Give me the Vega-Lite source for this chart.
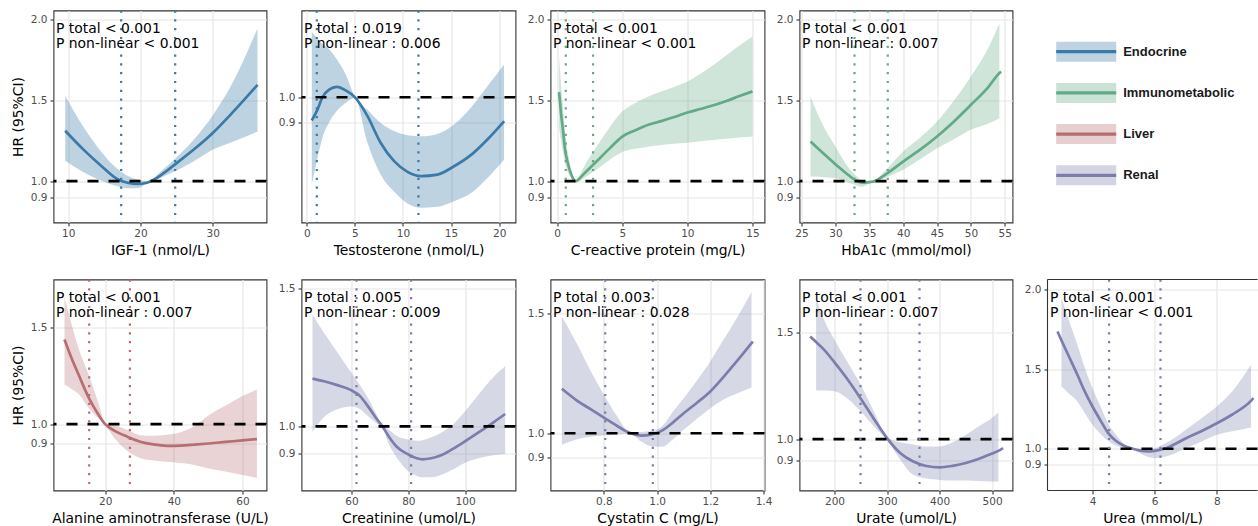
{
"$schema": "https://vega.github.io/schema/vega-lite/v6.json",
"padding": {"left": 10.5, "top": 8.5, "right": 0, "bottom": 0},
"autosize": {"type": "pad"},
"config": {
 "font": "DejaVu Sans",
 "view": {"stroke": "#333333", "strokeWidth": 1.1},
 "axis": {"grid": true, "gridColor": "#e6e6e6", "gridWidth": 1.2, "domain": false, "tickColor": "#333333", "tickSize": 3.5, "tickWidth": 1.1, "labelColor": "#4d4d4d", "labelFont": "DejaVu Sans", "labelFontSize": 10.5, "labelPadding": 2, "labelFlush": false, "labelOverlap": false, "labelBound": false, "titleFont": "DejaVu Sans", "titleFontSize": 13.9, "titleFontWeight": "normal", "titleColor": "#000000", "titlePadding": 5},
 "axisY": {"labelPadding": 3, "titlePadding": 5}
},
"datasets": {
 "p1": [
  {"x":9.59,"hr":1.312,"lo":1.126,"hi":1.529},
  {"x":12.12,"hr":1.195,"lo":1.055,"hi":1.335},
  {"x":14.43,"hr":1.1,"lo":1.005,"hi":1.19},
  {"x":16.96,"hr":1.008,"lo":0.967,"hi":1.07},
  {"x":18.34,"hr":0.988,"lo":0.955,"hi":1.03},
  {"x":19.5,"hr":0.982,"lo":0.955,"hi":1.012},
  {"x":20.9,"hr":0.99,"lo":0.985,"hi":1.0},
  {"x":21.58,"hr":1.002,"lo":0.996,"hi":1.012},
  {"x":23.2,"hr":1.049,"lo":1.028,"hi":1.075},
  {"x":24.7,"hr":1.101,"lo":1.059,"hi":1.135},
  {"x":27.33,"hr":1.194,"lo":1.122,"hi":1.255},
  {"x":29.96,"hr":1.297,"lo":1.194,"hi":1.405},
  {"x":32.87,"hr":1.432,"lo":1.246,"hi":1.62},
  {"x":36.19,"hr":1.597,"lo":1.307,"hi":1.948}
 ],
 "p1c": [{"x":17.33},{"x":24.8}],
 "p2": [
  {"x":0.52,"hr":0.908,"lo":0.655,"hi":1.258},
  {"x":1.11,"hr":0.951,"lo":0.76,"hi":1.232},
  {"x":1.63,"hr":1.0,"lo":0.84,"hi":1.21},
  {"x":2.32,"hr":1.03,"lo":0.9,"hi":1.19},
  {"x":3.12,"hr":1.041,"lo":0.945,"hi":1.15},
  {"x":4.05,"hr":1.027,"lo":0.978,"hi":1.09},
  {"x":4.99,"hr":1.0,"lo":0.998,"hi":1.002},
  {"x":6.31,"hr":0.925,"lo":0.82,"hi":0.95},
  {"x":7.69,"hr":0.819,"lo":0.693,"hi":0.898},
  {"x":9.08,"hr":0.747,"lo":0.627,"hi":0.866},
  {"x":10.47,"hr":0.705,"lo":0.58,"hi":0.85},
  {"x":11.85,"hr":0.688,"lo":0.563,"hi":0.846},
  {"x":13.59,"hr":0.694,"lo":0.567,"hi":0.855},
  {"x":15.31,"hr":0.727,"lo":0.589,"hi":0.892},
  {"x":17.05,"hr":0.771,"lo":0.62,"hi":0.958},
  {"x":18.78,"hr":0.833,"lo":0.681,"hi":1.043},
  {"x":20.51,"hr":0.905,"lo":0.753,"hi":1.129}
 ],
 "p2c": [{"x":1.04},{"x":11.61}],
 "p3": [
  {"x":0.15,"hr":1.551,"lo":1.33,"hi":1.78},
  {"x":0.3,"hr":1.42,"lo":1.25,"hi":1.6},
  {"x":0.46,"hr":1.31,"lo":1.18,"hi":1.45},
  {"x":0.6,"hr":1.2,"lo":1.11,"hi":1.31},
  {"x":0.8,"hr":1.12,"lo":1.06,"hi":1.19},
  {"x":1.0,"hr":1.06,"lo":1.03,"hi":1.1},
  {"x":1.2,"hr":1.02,"lo":1.005,"hi":1.04},
  {"x":1.45,"hr":1.0,"lo":0.997,"hi":1.003},
  {"x":1.7,"hr":1.015,"lo":1.0,"hi":1.03},
  {"x":2.0,"hr":1.04,"lo":1.015,"hi":1.08},
  {"x":3.0,"hr":1.12,"lo":1.07,"hi":1.21},
  {"x":4.0,"hr":1.2,"lo":1.13,"hi":1.33},
  {"x":5.0,"hr":1.276,"lo":1.18,"hi":1.431},
  {"x":6.0,"hr":1.315,"lo":1.2,"hi":1.485},
  {"x":7.0,"hr":1.349,"lo":1.213,"hi":1.525},
  {"x":8.0,"hr":1.372,"lo":1.224,"hi":1.555},
  {"x":9.0,"hr":1.397,"lo":1.232,"hi":1.585},
  {"x":10.0,"hr":1.425,"lo":1.238,"hi":1.617},
  {"x":11.0,"hr":1.447,"lo":1.247,"hi":1.665},
  {"x":12.0,"hr":1.47,"lo":1.255,"hi":1.72},
  {"x":13.0,"hr":1.497,"lo":1.262,"hi":1.78},
  {"x":14.0,"hr":1.527,"lo":1.27,"hi":1.84},
  {"x":15.0,"hr":1.556,"lo":1.276,"hi":1.896}
 ],
 "p3c": [{"x":0.667},{"x":2.76}],
 "p4": [
  {"x":26.33,"hr":1.245,"lo":1.029,"hi":1.524},
  {"x":28,"hr":1.18,"lo":1.025,"hi":1.36},
  {"x":30,"hr":1.105,"lo":1.018,"hi":1.214},
  {"x":32,"hr":1.035,"lo":0.99,"hi":1.08},
  {"x":33,"hr":1.005,"lo":0.975,"hi":1.035},
  {"x":34,"hr":0.99,"lo":0.965,"hi":1.005},
  {"x":35,"hr":0.994,"lo":0.985,"hi":1.0},
  {"x":35.8,"hr":1.0,"lo":0.998,"hi":1.003},
  {"x":37,"hr":1.03,"lo":1.015,"hi":1.05},
  {"x":40,"hr":1.121,"lo":1.07,"hi":1.184},
  {"x":42.5,"hr":1.195,"lo":1.135,"hi":1.27},
  {"x":45,"hr":1.277,"lo":1.204,"hi":1.37},
  {"x":47.5,"hr":1.37,"lo":1.26,"hi":1.5},
  {"x":50,"hr":1.473,"lo":1.318,"hi":1.649},
  {"x":52.5,"hr":1.58,"lo":1.355,"hi":1.82},
  {"x":54.2,"hr":1.67,"lo":1.39,"hi":1.979},
  {"x":54.45,"hr":1.68,"lo":null,"hi":null}
 ],
 "p4c": [{"x":32.82},{"x":37.73}],
 "p5": [
  {"x":8.14,"hr":1.438,"lo":1.205,"hi":1.659},
  {"x":10,"hr":1.35,"lo":1.185,"hi":1.53},
  {"x":12.3,"hr":1.254,"lo":1.155,"hi":1.39},
  {"x":15.3,"hr":1.133,"lo":1.081,"hi":1.25},
  {"x":18,"hr":1.05,"lo":1.03,"hi":1.11},
  {"x":20,"hr":1.0,"lo":0.995,"hi":1.005},
  {"x":22.4,"hr":0.969,"lo":0.935,"hi":0.995},
  {"x":26.6,"hr":0.934,"lo":0.86,"hi":0.97},
  {"x":30.2,"hr":0.909,"lo":0.825,"hi":0.943},
  {"x":34,"hr":0.895,"lo":0.812,"hi":0.94},
  {"x":38,"hr":0.888,"lo":0.805,"hi":0.945},
  {"x":42,"hr":0.889,"lo":0.799,"hi":0.958},
  {"x":46,"hr":0.894,"lo":0.789,"hi":0.99},
  {"x":50.1,"hr":0.9,"lo":0.771,"hi":1.045},
  {"x":55,"hr":0.908,"lo":0.755,"hi":1.095},
  {"x":60,"hr":0.916,"lo":0.737,"hi":1.145},
  {"x":64.2,"hr":0.923,"lo":0.722,"hi":1.179}
 ],
 "p5c": [{"x":15.34},{"x":27.2}],
 "p6": [
  {"x":46.26,"hr":1.174,"lo":0.98,"hi":1.407},
  {"x":50,"hr":1.165,"lo":1.031,"hi":1.345},
  {"x":55,"hr":1.15,"lo":1.062,"hi":1.27},
  {"x":60,"hr":1.131,"lo":1.072,"hi":1.194},
  {"x":63,"hr":1.11,"lo":1.062,"hi":1.15},
  {"x":66,"hr":1.07,"lo":1.035,"hi":1.1},
  {"x":69,"hr":1.025,"lo":1.01,"hi":1.04},
  {"x":70.9,"hr":1.0,"lo":0.996,"hi":1.004},
  {"x":73,"hr":0.965,"lo":0.94,"hi":0.99},
  {"x":76,"hr":0.925,"lo":0.885,"hi":0.965},
  {"x":80,"hr":0.898,"lo":0.837,"hi":0.952},
  {"x":83,"hr":0.884,"lo":0.82,"hi":0.948},
  {"x":85,"hr":0.88,"lo":0.815,"hi":0.95},
  {"x":88,"hr":0.884,"lo":0.815,"hi":0.96},
  {"x":92,"hr":0.897,"lo":0.825,"hi":0.98},
  {"x":96,"hr":0.92,"lo":0.845,"hi":1.01},
  {"x":100,"hr":0.946,"lo":0.868,"hi":1.055},
  {"x":105,"hr":0.98,"lo":0.885,"hi":1.12},
  {"x":110,"hr":1.015,"lo":0.895,"hi":1.18},
  {"x":114.1,"hr":1.045,"lo":0.9,"hi":1.219}
 ],
 "p6c": [{"x":61.76},{"x":80.98}],
 "p7": [
  {"x":0.642,"hr":1.185,"lo":0.952,"hi":1.486},
  {"x":0.7,"hr":1.135,"lo":0.975,"hi":1.37},
  {"x":0.75,"hr":1.1,"lo":0.985,"hi":1.26},
  {"x":0.8,"hr":1.065,"lo":0.99,"hi":1.16},
  {"x":0.85,"hr":1.03,"lo":0.995,"hi":1.07},
  {"x":0.9,"hr":1.0,"lo":0.998,"hi":1.003},
  {"x":0.94,"hr":0.99,"lo":0.965,"hi":1.005},
  {"x":0.98,"hr":0.995,"lo":0.945,"hi":1.01},
  {"x":1.02,"hr":1.012,"lo":0.944,"hi":1.03},
  {"x":1.06,"hr":1.045,"lo":0.975,"hi":1.09},
  {"x":1.1,"hr":1.083,"lo":1.014,"hi":1.146},
  {"x":1.15,"hr":1.127,"lo":1.06,"hi":1.22},
  {"x":1.2,"hr":1.174,"lo":1.104,"hi":1.299},
  {"x":1.25,"hr":1.235,"lo":1.14,"hi":1.39},
  {"x":1.3,"hr":1.3,"lo":1.165,"hi":1.48},
  {"x":1.355,"hr":1.375,"lo":1.19,"hi":1.588},
  {"x":1.36,"hr":1.382,"lo":null,"hi":null}
 ],
 "p7c": [{"x":0.805},{"x":0.984}],
 "p8": [
  {"x":153.6,"hr":1.481,"lo":null,"hi":null},
  {"x":165,"hr":1.455,"lo":1.228,"hi":1.661},
  {"x":180,"hr":1.42,"lo":1.228,"hi":1.56},
  {"x":200,"hr":1.36,"lo":1.225,"hi":1.466},
  {"x":225,"hr":1.28,"lo":1.19,"hi":1.36},
  {"x":250,"hr":1.19,"lo":1.13,"hi":1.255},
  {"x":275,"hr":1.095,"lo":1.06,"hi":1.13},
  {"x":300,"hr":1.005,"lo":0.995,"hi":1.01},
  {"x":325,"hr":0.935,"lo":0.905,"hi":0.985},
  {"x":350,"hr":0.895,"lo":0.833,"hi":0.975},
  {"x":375,"hr":0.874,"lo":0.815,"hi":0.965},
  {"x":400,"hr":0.868,"lo":0.809,"hi":0.966},
  {"x":425,"hr":0.875,"lo":0.806,"hi":0.985},
  {"x":450,"hr":0.888,"lo":0.806,"hi":1.02},
  {"x":475,"hr":0.908,"lo":0.804,"hi":1.06},
  {"x":500,"hr":0.933,"lo":0.802,"hi":1.1},
  {"x":512,"hr":0.945,"lo":0.801,"hi":1.125},
  {"x":520.9,"hr":0.958,"lo":null,"hi":null}
 ],
 "p8c": [{"x":249.5},{"x":361.8}],
 "p9": [
  {"x":2.874,"hr":1.735,"lo":null,"hi":null},
  {"x":3.0,"hr":1.68,"lo":1.39,"hi":1.944},
  {"x":3.25,"hr":1.575,"lo":1.345,"hi":1.8},
  {"x":3.5,"hr":1.47,"lo":1.3,"hi":1.66},
  {"x":3.75,"hr":1.36,"lo":1.225,"hi":1.51},
  {"x":4.0,"hr":1.265,"lo":1.15,"hi":1.38},
  {"x":4.25,"hr":1.18,"lo":1.095,"hi":1.27},
  {"x":4.5,"hr":1.1,"lo":1.05,"hi":1.16},
  {"x":4.75,"hr":1.05,"lo":1.02,"hi":1.09},
  {"x":5.0,"hr":1.02,"lo":1.004,"hi":1.035},
  {"x":5.3,"hr":1.0,"lo":0.997,"hi":1.003},
  {"x":5.5,"hr":0.99,"lo":0.975,"hi":1.0},
  {"x":5.8,"hr":0.983,"lo":0.948,"hi":1.0},
  {"x":6.0,"hr":0.987,"lo":0.941,"hi":1.004},
  {"x":6.3,"hr":1.0,"lo":0.95,"hi":1.03},
  {"x":6.5,"hr":1.015,"lo":0.96,"hi":1.05},
  {"x":7.0,"hr":1.065,"lo":1.004,"hi":1.119},
  {"x":7.5,"hr":1.11,"lo":1.045,"hi":1.19},
  {"x":8.0,"hr":1.16,"lo":1.088,"hi":1.265},
  {"x":8.5,"hr":1.215,"lo":1.11,"hi":1.36},
  {"x":9.1,"hr":1.3,"lo":1.134,"hi":1.526},
  {"x":9.18,"hr":1.317,"lo":null,"hi":null}
 ],
 "p9c": [{"x":4.534},{"x":6.188}],
 "groups": [{"group":"Endocrine"},{"group":"Immunometabolic"},{"group":"Liver"},{"group":"Renal"}]
},
"columns": 5,
"spacing": {"row": 57, "column": 35},
"bounds": "flush",
"align": "each",
"resolve": {"scale": {"x": "independent", "y": "independent", "color": "independent"}},
"concat": [
 {"width": 213, "height": 212, "layer": [
  {"data": {"name": "p1"}, "mark": {"type": "area", "color": "#3a7aa8", "opacity": 0.33, "interpolate": "monotone", "clip": true},
   "encoding": {"x": {"field": "x", "type": "quantitative", "scale": {"domain": [7.97, 37.43], "nice": false, "zero": false}, "axis": {"values": [10, 20, 30], "title": "IGF-1 (nmol/L)"}},
    "y": {"field": "lo", "type": "quantitative", "scale": {"domain": [0.7434, 2.0577], "nice": false, "zero": false}, "axis": {"values": [0.9, 1, 1.5, 2], "format": ".1f", "title": "HR (95%CI)"}}, "y2": {"field": "hi"}}},
  {"data": {"name": "p1"}, "mark": {"type": "line", "color": "#3a7aa8", "strokeWidth": 2.7, "interpolate": "monotone", "clip": true},
   "encoding": {"x": {"field": "x", "type": "quantitative", "scale": {"domain": [7.97, 37.43], "nice": false, "zero": false}, "axis": {"values": [10, 20, 30], "title": "IGF-1 (nmol/L)"}},
    "y": {"field": "hr", "type": "quantitative", "scale": {"domain": [0.7434, 2.0577], "nice": false, "zero": false}, "axis": {"values": [0.9, 1, 1.5, 2], "format": ".1f", "title": "HR (95%CI)"}}}},
  {"data": {"values": [{"ref": 1}]}, "mark": {"type": "rule", "color": "#000000", "strokeWidth": 2.6, "strokeDash": [11, 10]},
   "encoding": {"y": {"field": "ref", "type": "quantitative", "scale": {"domain": [0.7434, 2.0577], "nice": false, "zero": false}, "axis": {"values": [0.9, 1, 1.5, 2], "format": ".1f", "title": "HR (95%CI)"}}}},
  {"data": {"name": "p1c"}, "mark": {"type": "rule", "color": "#3a7aa8", "strokeWidth": 2.2, "strokeDash": [2.2, 6.6]},
   "encoding": {"x": {"field": "x", "type": "quantitative", "scale": {"domain": [7.97, 37.43], "nice": false, "zero": false}, "axis": {"values": [10, 20, 30], "title": "IGF-1 (nmol/L)"}}}},
  {"data": {"values": [{"l1": "P total < 0.001", "l2": "P non-linear < 0.001"}]}, "mark": {"type": "text", "align": "left", "baseline": "alphabetic", "dx": 2.5, "dy": 22.5, "fontSize": 13.9, "color": "#000000"},
   "encoding": {"x": {"datum": 7.97, "type": "quantitative", "scale": {"domain": [7.97, 37.43], "nice": false, "zero": false}, "axis": {"values": [10, 20, 30], "title": "IGF-1 (nmol/L)"}}, "y": {"datum": 2.0577, "type": "quantitative", "scale": {"domain": [0.7434, 2.0577], "nice": false, "zero": false}, "axis": {"values": [0.9, 1, 1.5, 2], "format": ".1f", "title": "HR (95%CI)"}}, "text": {"field": "l1"}}},
  {"data": {"values": [{"l1": "P total < 0.001", "l2": "P non-linear < 0.001"}]}, "mark": {"type": "text", "align": "left", "baseline": "alphabetic", "dx": 2.5, "dy": 37.5, "fontSize": 13.9, "color": "#000000"},
   "encoding": {"x": {"datum": 7.97, "type": "quantitative", "scale": {"domain": [7.97, 37.43], "nice": false, "zero": false}, "axis": {"values": [10, 20, 30], "title": "IGF-1 (nmol/L)"}}, "y": {"datum": 2.0577, "type": "quantitative", "scale": {"domain": [0.7434, 2.0577], "nice": false, "zero": false}, "axis": {"values": [0.9, 1, 1.5, 2], "format": ".1f", "title": "HR (95%CI)"}}, "text": {"field": "l2"}}}
 ]},
 {"width": 214, "height": 212, "layer": [
  {"data": {"name": "p2"}, "mark": {"type": "area", "color": "#3a7aa8", "opacity": 0.33, "interpolate": "monotone", "clip": true},
   "encoding": {"x": {"field": "x", "type": "quantitative", "scale": {"domain": [-0.55, 21.7], "nice": false, "zero": false}, "axis": {"values": [0, 5, 10, 15, 20], "title": "Testosterone (nmol/L)"}},
    "y": {"field": "lo", "type": "quantitative", "scale": {"domain": [0.5047, 1.3427], "nice": false, "zero": false}, "axis": {"values": [0.9, 1], "format": ".1f", "title": null}}, "y2": {"field": "hi"}}},
  {"data": {"name": "p2"}, "mark": {"type": "line", "color": "#3a7aa8", "strokeWidth": 2.7, "interpolate": "monotone", "clip": true},
   "encoding": {"x": {"field": "x", "type": "quantitative", "scale": {"domain": [-0.55, 21.7], "nice": false, "zero": false}, "axis": {"values": [0, 5, 10, 15, 20], "title": "Testosterone (nmol/L)"}},
    "y": {"field": "hr", "type": "quantitative", "scale": {"domain": [0.5047, 1.3427], "nice": false, "zero": false}, "axis": {"values": [0.9, 1], "format": ".1f", "title": null}}}},
  {"data": {"values": [{"ref": 1}]}, "mark": {"type": "rule", "color": "#000000", "strokeWidth": 2.6, "strokeDash": [11, 10]},
   "encoding": {"y": {"field": "ref", "type": "quantitative", "scale": {"domain": [0.5047, 1.3427], "nice": false, "zero": false}, "axis": {"values": [0.9, 1], "format": ".1f", "title": null}}}},
  {"data": {"name": "p2c"}, "mark": {"type": "rule", "color": "#3a7aa8", "strokeWidth": 2.2, "strokeDash": [2.2, 6.6]},
   "encoding": {"x": {"field": "x", "type": "quantitative", "scale": {"domain": [-0.55, 21.7], "nice": false, "zero": false}, "axis": {"values": [0, 5, 10, 15, 20], "title": "Testosterone (nmol/L)"}}}},
  {"data": {"values": [{"l1": "P total : 0.019", "l2": "P non-linear : 0.006"}]}, "mark": {"type": "text", "align": "left", "baseline": "alphabetic", "dx": 2.5, "dy": 22.5, "fontSize": 13.9, "color": "#000000"},
   "encoding": {"x": {"datum": -0.55, "type": "quantitative", "scale": {"domain": [-0.55, 21.7], "nice": false, "zero": false}, "axis": {"values": [0, 5, 10, 15, 20], "title": "Testosterone (nmol/L)"}}, "y": {"datum": 1.3427, "type": "quantitative", "scale": {"domain": [0.5047, 1.3427], "nice": false, "zero": false}, "axis": {"values": [0.9, 1], "format": ".1f", "title": null}}, "text": {"field": "l1"}}},
  {"data": {"values": [{"l1": "P total : 0.019", "l2": "P non-linear : 0.006"}]}, "mark": {"type": "text", "align": "left", "baseline": "alphabetic", "dx": 2.5, "dy": 37.5, "fontSize": 13.9, "color": "#000000"},
   "encoding": {"x": {"datum": -0.55, "type": "quantitative", "scale": {"domain": [-0.55, 21.7], "nice": false, "zero": false}, "axis": {"values": [0, 5, 10, 15, 20], "title": "Testosterone (nmol/L)"}}, "y": {"datum": 1.3427, "type": "quantitative", "scale": {"domain": [0.5047, 1.3427], "nice": false, "zero": false}, "axis": {"values": [0.9, 1], "format": ".1f", "title": null}}, "text": {"field": "l2"}}}
 ]},
 {"width": 214, "height": 212, "layer": [
  {"data": {"name": "p3"}, "mark": {"type": "area", "color": "#62a985", "opacity": 0.3, "interpolate": "monotone", "clip": true},
   "encoding": {"x": {"field": "x", "type": "quantitative", "scale": {"domain": [-0.507, 15.92], "nice": false, "zero": false}, "axis": {"values": [0, 5, 10, 15], "title": "C-reactive protein (mg/L)"}},
    "y": {"field": "lo", "type": "quantitative", "scale": {"domain": [0.7434, 2.0577], "nice": false, "zero": false}, "axis": {"values": [0.9, 1, 1.5, 2], "format": ".1f", "title": null}}, "y2": {"field": "hi"}}},
  {"data": {"name": "p3"}, "mark": {"type": "line", "color": "#62a985", "strokeWidth": 2.7, "interpolate": "monotone", "clip": true},
   "encoding": {"x": {"field": "x", "type": "quantitative", "scale": {"domain": [-0.507, 15.92], "nice": false, "zero": false}, "axis": {"values": [0, 5, 10, 15], "title": "C-reactive protein (mg/L)"}},
    "y": {"field": "hr", "type": "quantitative", "scale": {"domain": [0.7434, 2.0577], "nice": false, "zero": false}, "axis": {"values": [0.9, 1, 1.5, 2], "format": ".1f", "title": null}}}},
  {"data": {"values": [{"ref": 1}]}, "mark": {"type": "rule", "color": "#000000", "strokeWidth": 2.6, "strokeDash": [11, 10]},
   "encoding": {"y": {"field": "ref", "type": "quantitative", "scale": {"domain": [0.7434, 2.0577], "nice": false, "zero": false}, "axis": {"values": [0.9, 1, 1.5, 2], "format": ".1f", "title": null}}}},
  {"data": {"name": "p3c"}, "mark": {"type": "rule", "color": "#62a985", "strokeWidth": 2.2, "strokeDash": [2.2, 6.6]},
   "encoding": {"x": {"field": "x", "type": "quantitative", "scale": {"domain": [-0.507, 15.92], "nice": false, "zero": false}, "axis": {"values": [0, 5, 10, 15], "title": "C-reactive protein (mg/L)"}}}},
  {"data": {"values": [{"l1": "P total < 0.001", "l2": "P non-linear < 0.001"}]}, "mark": {"type": "text", "align": "left", "baseline": "alphabetic", "dx": 2.5, "dy": 22.5, "fontSize": 13.9, "color": "#000000"},
   "encoding": {"x": {"datum": -0.507, "type": "quantitative", "scale": {"domain": [-0.507, 15.92], "nice": false, "zero": false}, "axis": {"values": [0, 5, 10, 15], "title": "C-reactive protein (mg/L)"}}, "y": {"datum": 2.0577, "type": "quantitative", "scale": {"domain": [0.7434, 2.0577], "nice": false, "zero": false}, "axis": {"values": [0.9, 1, 1.5, 2], "format": ".1f", "title": null}}, "text": {"field": "l1"}}},
  {"data": {"values": [{"l1": "P total < 0.001", "l2": "P non-linear < 0.001"}]}, "mark": {"type": "text", "align": "left", "baseline": "alphabetic", "dx": 2.5, "dy": 37.5, "fontSize": 13.9, "color": "#000000"},
   "encoding": {"x": {"datum": -0.507, "type": "quantitative", "scale": {"domain": [-0.507, 15.92], "nice": false, "zero": false}, "axis": {"values": [0, 5, 10, 15], "title": "C-reactive protein (mg/L)"}}, "y": {"datum": 2.0577, "type": "quantitative", "scale": {"domain": [0.7434, 2.0577], "nice": false, "zero": false}, "axis": {"values": [0.9, 1, 1.5, 2], "format": ".1f", "title": null}}, "text": {"field": "l2"}}}
 ]},
 {"width": 213, "height": 212, "layer": [
  {"data": {"name": "p4"}, "mark": {"type": "area", "color": "#62a985", "opacity": 0.3, "interpolate": "monotone", "clip": true},
   "encoding": {"x": {"field": "x", "type": "quantitative", "scale": {"domain": [24.705, 56.135], "nice": false, "zero": false}, "axis": {"values": [25, 30, 35, 40, 45, 50, 55], "title": "HbA1c (mmol/mol)"}},
    "y": {"field": "lo", "type": "quantitative", "scale": {"domain": [0.7434, 2.0577], "nice": false, "zero": false}, "axis": {"values": [0.9, 1, 1.5, 2], "format": ".1f", "title": null}}, "y2": {"field": "hi"}}},
  {"data": {"name": "p4"}, "mark": {"type": "line", "color": "#62a985", "strokeWidth": 2.7, "interpolate": "monotone", "clip": true},
   "encoding": {"x": {"field": "x", "type": "quantitative", "scale": {"domain": [24.705, 56.135], "nice": false, "zero": false}, "axis": {"values": [25, 30, 35, 40, 45, 50, 55], "title": "HbA1c (mmol/mol)"}},
    "y": {"field": "hr", "type": "quantitative", "scale": {"domain": [0.7434, 2.0577], "nice": false, "zero": false}, "axis": {"values": [0.9, 1, 1.5, 2], "format": ".1f", "title": null}}}},
  {"data": {"values": [{"ref": 1}]}, "mark": {"type": "rule", "color": "#000000", "strokeWidth": 2.6, "strokeDash": [11, 10]},
   "encoding": {"y": {"field": "ref", "type": "quantitative", "scale": {"domain": [0.7434, 2.0577], "nice": false, "zero": false}, "axis": {"values": [0.9, 1, 1.5, 2], "format": ".1f", "title": null}}}},
  {"data": {"name": "p4c"}, "mark": {"type": "rule", "color": "#62a985", "strokeWidth": 2.2, "strokeDash": [2.2, 6.6]},
   "encoding": {"x": {"field": "x", "type": "quantitative", "scale": {"domain": [24.705, 56.135], "nice": false, "zero": false}, "axis": {"values": [25, 30, 35, 40, 45, 50, 55], "title": "HbA1c (mmol/mol)"}}}},
  {"data": {"values": [{"l1": "P total < 0.001", "l2": "P non-linear : 0.007"}]}, "mark": {"type": "text", "align": "left", "baseline": "alphabetic", "dx": 2.5, "dy": 22.5, "fontSize": 13.9, "color": "#000000"},
   "encoding": {"x": {"datum": 24.705, "type": "quantitative", "scale": {"domain": [24.705, 56.135], "nice": false, "zero": false}, "axis": {"values": [25, 30, 35, 40, 45, 50, 55], "title": "HbA1c (mmol/mol)"}}, "y": {"datum": 2.0577, "type": "quantitative", "scale": {"domain": [0.7434, 2.0577], "nice": false, "zero": false}, "axis": {"values": [0.9, 1, 1.5, 2], "format": ".1f", "title": null}}, "text": {"field": "l1"}}},
  {"data": {"values": [{"l1": "P total < 0.001", "l2": "P non-linear : 0.007"}]}, "mark": {"type": "text", "align": "left", "baseline": "alphabetic", "dx": 2.5, "dy": 37.5, "fontSize": 13.9, "color": "#000000"},
   "encoding": {"x": {"datum": 24.705, "type": "quantitative", "scale": {"domain": [24.705, 56.135], "nice": false, "zero": false}, "axis": {"values": [25, 30, 35, 40, 45, 50, 55], "title": "HbA1c (mmol/mol)"}}, "y": {"datum": 2.0577, "type": "quantitative", "scale": {"domain": [0.7434, 2.0577], "nice": false, "zero": false}, "axis": {"values": [0.9, 1, 1.5, 2], "format": ".1f", "title": null}}, "text": {"field": "l2"}}}
 ]},
 {"width": 210, "height": 206, "view": {"stroke": null}, "data": {"name": "groups"},
  "encoding": {"y": {"field": "group", "type": "nominal", "scale": {"type": "point", "padding": 1, "domain": ["Endocrine", "Immunometabolic", "Liver", "Renal"]}, "axis": null}},
  "layer": [
   {"mark": {"type": "rule", "strokeWidth": 20, "opacity": 0.33},
    "encoding": {"x": {"datum": 8.7, "type": "quantitative", "scale": {"domain": [0, 210], "nice": false, "zero": false}, "axis": null}, "x2": {"datum": 68.7},
     "color": {"field": "group", "type": "nominal", "scale": {"domain": ["Endocrine", "Immunometabolic", "Liver", "Renal"], "range": ["#3a7aa8", "#62a985", "#b76e70", "#7c7dab"]}, "legend": null}}},
   {"mark": {"type": "rule", "strokeWidth": 3.3},
    "encoding": {"x": {"datum": 8.7, "type": "quantitative", "scale": {"domain": [0, 210], "nice": false, "zero": false}, "axis": null}, "x2": {"datum": 68.7},
     "color": {"field": "group", "type": "nominal", "scale": {"domain": ["Endocrine", "Immunometabolic", "Liver", "Renal"], "range": ["#3a7aa8", "#62a985", "#b76e70", "#7c7dab"]}, "legend": null}}},
   {"mark": {"type": "text", "align": "left", "baseline": "middle", "font": "Liberation Sans", "fontSize": 13, "fontWeight": "bold", "color": "#1a1a1a"},
    "encoding": {"x": {"datum": 75.7, "type": "quantitative", "scale": {"domain": [0, 210], "nice": false, "zero": false}, "axis": null}, "text": {"field": "group"}}}
  ]},
 {"width": 213, "height": 211, "layer": [
  {"data": {"name": "p5"}, "mark": {"type": "area", "color": "#b76e70", "opacity": 0.3, "interpolate": "monotone", "clip": true},
   "encoding": {"x": {"field": "x", "type": "quantitative", "scale": {"domain": [4.94, 66.99], "nice": false, "zero": false}, "axis": {"values": [20, 40, 60], "title": "Alanine aminotransferase (U/L)"}},
    "y": {"field": "lo", "type": "quantitative", "scale": {"domain": [0.6567, 1.7483], "nice": false, "zero": false}, "axis": {"values": [0.9, 1, 1.5], "format": ".1f", "title": "HR (95%CI)"}}, "y2": {"field": "hi"}}},
  {"data": {"name": "p5"}, "mark": {"type": "line", "color": "#b76e70", "strokeWidth": 2.7, "interpolate": "monotone", "clip": true},
   "encoding": {"x": {"field": "x", "type": "quantitative", "scale": {"domain": [4.94, 66.99], "nice": false, "zero": false}, "axis": {"values": [20, 40, 60], "title": "Alanine aminotransferase (U/L)"}},
    "y": {"field": "hr", "type": "quantitative", "scale": {"domain": [0.6567, 1.7483], "nice": false, "zero": false}, "axis": {"values": [0.9, 1, 1.5], "format": ".1f", "title": "HR (95%CI)"}}}},
  {"data": {"values": [{"ref": 1}]}, "mark": {"type": "rule", "color": "#000000", "strokeWidth": 2.6, "strokeDash": [11, 10]},
   "encoding": {"y": {"field": "ref", "type": "quantitative", "scale": {"domain": [0.6567, 1.7483], "nice": false, "zero": false}, "axis": {"values": [0.9, 1, 1.5], "format": ".1f", "title": "HR (95%CI)"}}}},
  {"data": {"name": "p5c"}, "mark": {"type": "rule", "color": "#b76e70", "strokeWidth": 2.2, "strokeDash": [2.2, 6.6]},
   "encoding": {"x": {"field": "x", "type": "quantitative", "scale": {"domain": [4.94, 66.99], "nice": false, "zero": false}, "axis": {"values": [20, 40, 60], "title": "Alanine aminotransferase (U/L)"}}}},
  {"data": {"values": [{"l1": "P total < 0.001", "l2": "P non-linear : 0.007"}]}, "mark": {"type": "text", "align": "left", "baseline": "alphabetic", "dx": 2.5, "dy": 22, "fontSize": 13.9, "color": "#000000"},
   "encoding": {"x": {"datum": 4.94, "type": "quantitative", "scale": {"domain": [4.94, 66.99], "nice": false, "zero": false}, "axis": {"values": [20, 40, 60], "title": "Alanine aminotransferase (U/L)"}}, "y": {"datum": 1.7483, "type": "quantitative", "scale": {"domain": [0.6567, 1.7483], "nice": false, "zero": false}, "axis": {"values": [0.9, 1, 1.5], "format": ".1f", "title": "HR (95%CI)"}}, "text": {"field": "l1"}}},
  {"data": {"values": [{"l1": "P total < 0.001", "l2": "P non-linear : 0.007"}]}, "mark": {"type": "text", "align": "left", "baseline": "alphabetic", "dx": 2.5, "dy": 37.3, "fontSize": 13.9, "color": "#000000"},
   "encoding": {"x": {"datum": 4.94, "type": "quantitative", "scale": {"domain": [4.94, 66.99], "nice": false, "zero": false}, "axis": {"values": [20, 40, 60], "title": "Alanine aminotransferase (U/L)"}}, "y": {"datum": 1.7483, "type": "quantitative", "scale": {"domain": [0.6567, 1.7483], "nice": false, "zero": false}, "axis": {"values": [0.9, 1, 1.5], "format": ".1f", "title": "HR (95%CI)"}}, "text": {"field": "l2"}}}
 ]},
 {"width": 214, "height": 211, "layer": [
  {"data": {"name": "p6"}, "mark": {"type": "area", "color": "#7c7dab", "opacity": 0.3, "interpolate": "monotone", "clip": true},
   "encoding": {"x": {"field": "x", "type": "quantitative", "scale": {"domain": [42.39, 117.74], "nice": false, "zero": false}, "axis": {"values": [60, 80, 100], "title": "Creatinine (umol/L)"}},
    "y": {"field": "lo", "type": "quantitative", "scale": {"domain": [0.7669, 1.5342], "nice": false, "zero": false}, "axis": {"values": [0.9, 1, 1.5], "format": ".1f", "title": null}}, "y2": {"field": "hi"}}},
  {"data": {"name": "p6"}, "mark": {"type": "line", "color": "#7c7dab", "strokeWidth": 2.7, "interpolate": "monotone", "clip": true},
   "encoding": {"x": {"field": "x", "type": "quantitative", "scale": {"domain": [42.39, 117.74], "nice": false, "zero": false}, "axis": {"values": [60, 80, 100], "title": "Creatinine (umol/L)"}},
    "y": {"field": "hr", "type": "quantitative", "scale": {"domain": [0.7669, 1.5342], "nice": false, "zero": false}, "axis": {"values": [0.9, 1, 1.5], "format": ".1f", "title": null}}}},
  {"data": {"values": [{"ref": 1}]}, "mark": {"type": "rule", "color": "#000000", "strokeWidth": 2.6, "strokeDash": [11, 10]},
   "encoding": {"y": {"field": "ref", "type": "quantitative", "scale": {"domain": [0.7669, 1.5342], "nice": false, "zero": false}, "axis": {"values": [0.9, 1, 1.5], "format": ".1f", "title": null}}}},
  {"data": {"name": "p6c"}, "mark": {"type": "rule", "color": "#7c7dab", "strokeWidth": 2.2, "strokeDash": [2.2, 6.6]},
   "encoding": {"x": {"field": "x", "type": "quantitative", "scale": {"domain": [42.39, 117.74], "nice": false, "zero": false}, "axis": {"values": [60, 80, 100], "title": "Creatinine (umol/L)"}}}},
  {"data": {"values": [{"l1": "P total : 0.005", "l2": "P non-linear : 0.009"}]}, "mark": {"type": "text", "align": "left", "baseline": "alphabetic", "dx": 2.5, "dy": 22, "fontSize": 13.9, "color": "#000000"},
   "encoding": {"x": {"datum": 42.39, "type": "quantitative", "scale": {"domain": [42.39, 117.74], "nice": false, "zero": false}, "axis": {"values": [60, 80, 100], "title": "Creatinine (umol/L)"}}, "y": {"datum": 1.5342, "type": "quantitative", "scale": {"domain": [0.7669, 1.5342], "nice": false, "zero": false}, "axis": {"values": [0.9, 1, 1.5], "format": ".1f", "title": null}}, "text": {"field": "l1"}}},
  {"data": {"values": [{"l1": "P total : 0.005", "l2": "P non-linear : 0.009"}]}, "mark": {"type": "text", "align": "left", "baseline": "alphabetic", "dx": 2.5, "dy": 37.3, "fontSize": 13.9, "color": "#000000"},
   "encoding": {"x": {"datum": 42.39, "type": "quantitative", "scale": {"domain": [42.39, 117.74], "nice": false, "zero": false}, "axis": {"values": [60, 80, 100], "title": "Creatinine (umol/L)"}}, "y": {"datum": 1.5342, "type": "quantitative", "scale": {"domain": [0.7669, 1.5342], "nice": false, "zero": false}, "axis": {"values": [0.9, 1, 1.5], "format": ".1f", "title": null}}, "text": {"field": "l2"}}}
 ]},
 {"width": 214, "height": 211, "layer": [
  {"data": {"name": "p7"}, "mark": {"type": "area", "color": "#7c7dab", "opacity": 0.3, "interpolate": "monotone", "clip": true},
   "encoding": {"x": {"field": "x", "type": "quantitative", "scale": {"domain": [0.5993, 1.4038], "nice": false, "zero": false}, "axis": {"values": [0.8, 1.0, 1.2, 1.4], "format": ".1f", "title": "Cystatin C (mg/L)"}},
    "y": {"field": "lo", "type": "quantitative", "scale": {"domain": [0.7613, 1.6404], "nice": false, "zero": false}, "axis": {"values": [0.9, 1, 1.5], "format": ".1f", "title": null}}, "y2": {"field": "hi"}}},
  {"data": {"name": "p7"}, "mark": {"type": "line", "color": "#7c7dab", "strokeWidth": 2.7, "interpolate": "monotone", "clip": true},
   "encoding": {"x": {"field": "x", "type": "quantitative", "scale": {"domain": [0.5993, 1.4038], "nice": false, "zero": false}, "axis": {"values": [0.8, 1.0, 1.2, 1.4], "format": ".1f", "title": "Cystatin C (mg/L)"}},
    "y": {"field": "hr", "type": "quantitative", "scale": {"domain": [0.7613, 1.6404], "nice": false, "zero": false}, "axis": {"values": [0.9, 1, 1.5], "format": ".1f", "title": null}}}},
  {"data": {"values": [{"ref": 1}]}, "mark": {"type": "rule", "color": "#000000", "strokeWidth": 2.6, "strokeDash": [11, 10]},
   "encoding": {"y": {"field": "ref", "type": "quantitative", "scale": {"domain": [0.7613, 1.6404], "nice": false, "zero": false}, "axis": {"values": [0.9, 1, 1.5], "format": ".1f", "title": null}}}},
  {"data": {"name": "p7c"}, "mark": {"type": "rule", "color": "#7c7dab", "strokeWidth": 2.2, "strokeDash": [2.2, 6.6]},
   "encoding": {"x": {"field": "x", "type": "quantitative", "scale": {"domain": [0.5993, 1.4038], "nice": false, "zero": false}, "axis": {"values": [0.8, 1.0, 1.2, 1.4], "format": ".1f", "title": "Cystatin C (mg/L)"}}}},
  {"data": {"values": [{"l1": "P total : 0.003", "l2": "P non-linear : 0.028"}]}, "mark": {"type": "text", "align": "left", "baseline": "alphabetic", "dx": 2.5, "dy": 22, "fontSize": 13.9, "color": "#000000"},
   "encoding": {"x": {"datum": 0.5993, "type": "quantitative", "scale": {"domain": [0.5993, 1.4038], "nice": false, "zero": false}, "axis": {"values": [0.8, 1.0, 1.2, 1.4], "format": ".1f", "title": "Cystatin C (mg/L)"}}, "y": {"datum": 1.6404, "type": "quantitative", "scale": {"domain": [0.7613, 1.6404], "nice": false, "zero": false}, "axis": {"values": [0.9, 1, 1.5], "format": ".1f", "title": null}}, "text": {"field": "l1"}}},
  {"data": {"values": [{"l1": "P total : 0.003", "l2": "P non-linear : 0.028"}]}, "mark": {"type": "text", "align": "left", "baseline": "alphabetic", "dx": 2.5, "dy": 37.3, "fontSize": 13.9, "color": "#000000"},
   "encoding": {"x": {"datum": 0.5993, "type": "quantitative", "scale": {"domain": [0.5993, 1.4038], "nice": false, "zero": false}, "axis": {"values": [0.8, 1.0, 1.2, 1.4], "format": ".1f", "title": "Cystatin C (mg/L)"}}, "y": {"datum": 1.6404, "type": "quantitative", "scale": {"domain": [0.7613, 1.6404], "nice": false, "zero": false}, "axis": {"values": [0.9, 1, 1.5], "format": ".1f", "title": null}}, "text": {"field": "l2"}}}
 ]},
 {"width": 213, "height": 211, "layer": [
  {"data": {"name": "p8"}, "mark": {"type": "area", "color": "#7c7dab", "opacity": 0.3, "interpolate": "monotone", "clip": true},
   "encoding": {"x": {"field": "x", "type": "quantitative", "scale": {"domain": [133.37, 538.85], "nice": false, "zero": false}, "axis": {"values": [200, 300, 400, 500], "title": "Urate (umol/L)"}},
    "y": {"field": "lo", "type": "quantitative", "scale": {"domain": [0.7593, 1.7485], "nice": false, "zero": false}, "axis": {"values": [0.9, 1, 1.5], "format": ".1f", "title": null}}, "y2": {"field": "hi"}}},
  {"data": {"name": "p8"}, "mark": {"type": "line", "color": "#7c7dab", "strokeWidth": 2.7, "interpolate": "monotone", "clip": true},
   "encoding": {"x": {"field": "x", "type": "quantitative", "scale": {"domain": [133.37, 538.85], "nice": false, "zero": false}, "axis": {"values": [200, 300, 400, 500], "title": "Urate (umol/L)"}},
    "y": {"field": "hr", "type": "quantitative", "scale": {"domain": [0.7593, 1.7485], "nice": false, "zero": false}, "axis": {"values": [0.9, 1, 1.5], "format": ".1f", "title": null}}}},
  {"data": {"values": [{"ref": 1}]}, "mark": {"type": "rule", "color": "#000000", "strokeWidth": 2.6, "strokeDash": [11, 10]},
   "encoding": {"y": {"field": "ref", "type": "quantitative", "scale": {"domain": [0.7593, 1.7485], "nice": false, "zero": false}, "axis": {"values": [0.9, 1, 1.5], "format": ".1f", "title": null}}}},
  {"data": {"name": "p8c"}, "mark": {"type": "rule", "color": "#7c7dab", "strokeWidth": 2.2, "strokeDash": [2.2, 6.6]},
   "encoding": {"x": {"field": "x", "type": "quantitative", "scale": {"domain": [133.37, 538.85], "nice": false, "zero": false}, "axis": {"values": [200, 300, 400, 500], "title": "Urate (umol/L)"}}}},
  {"data": {"values": [{"l1": "P total < 0.001", "l2": "P non-linear : 0.007"}]}, "mark": {"type": "text", "align": "left", "baseline": "alphabetic", "dx": 2.5, "dy": 22, "fontSize": 13.9, "color": "#000000"},
   "encoding": {"x": {"datum": 133.37, "type": "quantitative", "scale": {"domain": [133.37, 538.85], "nice": false, "zero": false}, "axis": {"values": [200, 300, 400, 500], "title": "Urate (umol/L)"}}, "y": {"datum": 1.7485, "type": "quantitative", "scale": {"domain": [0.7593, 1.7485], "nice": false, "zero": false}, "axis": {"values": [0.9, 1, 1.5], "format": ".1f", "title": null}}, "text": {"field": "l1"}}},
  {"data": {"values": [{"l1": "P total < 0.001", "l2": "P non-linear : 0.007"}]}, "mark": {"type": "text", "align": "left", "baseline": "alphabetic", "dx": 2.5, "dy": 37.3, "fontSize": 13.9, "color": "#000000"},
   "encoding": {"x": {"datum": 133.37, "type": "quantitative", "scale": {"domain": [133.37, 538.85], "nice": false, "zero": false}, "axis": {"values": [200, 300, 400, 500], "title": "Urate (umol/L)"}}, "y": {"datum": 1.7485, "type": "quantitative", "scale": {"domain": [0.7593, 1.7485], "nice": false, "zero": false}, "axis": {"values": [0.9, 1, 1.5], "format": ".1f", "title": null}}, "text": {"field": "l2"}}}
 ]},
 {"width": 210, "height": 211, "view": {"stroke": null}, "layer": [
  {"data": {"name": "p9"}, "mark": {"type": "area", "color": "#7c7dab", "opacity": 0.3, "interpolate": "monotone", "clip": true},
   "encoding": {"x": {"field": "x", "type": "quantitative", "scale": {"domain": [2.552, 9.31], "nice": false, "zero": false}, "axis": {"values": [4, 6, 8], "title": "Urea (mmol/L)"}},
    "y": {"field": "lo", "type": "quantitative", "scale": {"domain": [0.7388, 2.0608], "nice": false, "zero": false}, "axis": {"values": [0.9, 1, 1.5, 2], "format": ".1f", "title": null}}, "y2": {"field": "hi"}}},
  {"data": {"name": "p9"}, "mark": {"type": "line", "color": "#7c7dab", "strokeWidth": 2.7, "interpolate": "monotone", "clip": true},
   "encoding": {"x": {"field": "x", "type": "quantitative", "scale": {"domain": [2.552, 9.31], "nice": false, "zero": false}, "axis": {"values": [4, 6, 8], "title": "Urea (mmol/L)"}},
    "y": {"field": "hr", "type": "quantitative", "scale": {"domain": [0.7388, 2.0608], "nice": false, "zero": false}, "axis": {"values": [0.9, 1, 1.5, 2], "format": ".1f", "title": null}}}},
  {"data": {"values": [{"ref": 1}]}, "mark": {"type": "rule", "color": "#000000", "strokeWidth": 2.6, "strokeDash": [11, 10]},
   "encoding": {"y": {"field": "ref", "type": "quantitative", "scale": {"domain": [0.7388, 2.0608], "nice": false, "zero": false}, "axis": {"values": [0.9, 1, 1.5, 2], "format": ".1f", "title": null}}}},
  {"data": {"name": "p9c"}, "mark": {"type": "rule", "color": "#7c7dab", "strokeWidth": 2.2, "strokeDash": [2.2, 6.6]},
   "encoding": {"x": {"field": "x", "type": "quantitative", "scale": {"domain": [2.552, 9.31], "nice": false, "zero": false}, "axis": {"values": [4, 6, 8], "title": "Urea (mmol/L)"}}}},
  {"data": {"values": [{"edge": 2.0608}, {"edge": 0.7388}]}, "mark": {"type": "rule", "color": "#333333", "strokeWidth": 1.1},
   "encoding": {"y": {"field": "edge", "type": "quantitative", "scale": {"domain": [0.7388, 2.0608], "nice": false, "zero": false}, "axis": {"values": [0.9, 1, 1.5, 2], "format": ".1f", "title": null}}}},
  {"data": {"values": [{"edge": 2.552}]}, "mark": {"type": "rule", "color": "#333333", "strokeWidth": 1.1},
   "encoding": {"x": {"field": "edge", "type": "quantitative", "scale": {"domain": [2.552, 9.31], "nice": false, "zero": false}, "axis": {"values": [4, 6, 8], "title": "Urea (mmol/L)"}}}},
  {"data": {"values": [{"l1": "P total < 0.001", "l2": "P non-linear < 0.001"}]}, "mark": {"type": "text", "align": "left", "baseline": "alphabetic", "dx": 2.5, "dy": 22, "fontSize": 13.9, "color": "#000000"},
   "encoding": {"x": {"datum": 2.552, "type": "quantitative", "scale": {"domain": [2.552, 9.31], "nice": false, "zero": false}, "axis": {"values": [4, 6, 8], "title": "Urea (mmol/L)"}}, "y": {"datum": 2.0608, "type": "quantitative", "scale": {"domain": [0.7388, 2.0608], "nice": false, "zero": false}, "axis": {"values": [0.9, 1, 1.5, 2], "format": ".1f", "title": null}}, "text": {"field": "l1"}}},
  {"data": {"values": [{"l1": "P total < 0.001", "l2": "P non-linear < 0.001"}]}, "mark": {"type": "text", "align": "left", "baseline": "alphabetic", "dx": 2.5, "dy": 37.3, "fontSize": 13.9, "color": "#000000"},
   "encoding": {"x": {"datum": 2.552, "type": "quantitative", "scale": {"domain": [2.552, 9.31], "nice": false, "zero": false}, "axis": {"values": [4, 6, 8], "title": "Urea (mmol/L)"}}, "y": {"datum": 2.0608, "type": "quantitative", "scale": {"domain": [0.7388, 2.0608], "nice": false, "zero": false}, "axis": {"values": [0.9, 1, 1.5, 2], "format": ".1f", "title": null}}, "text": {"field": "l2"}}}
 ]}
]
}
